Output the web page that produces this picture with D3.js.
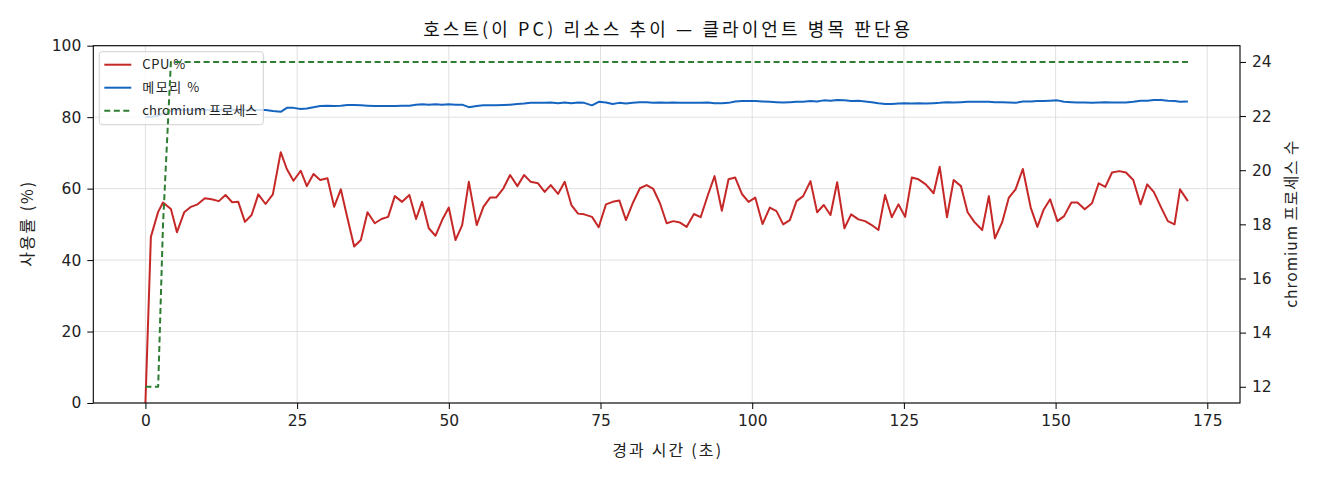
<!DOCTYPE html>
<html>
<head>
<meta charset="utf-8">
<script src="https://cdn.jsdelivr.net/npm/d3@7"></script>
<style>
  body { margin: 0; background: #fff; }
  svg { display: block; font-family: "Noto Sans CJK KR", "Noto Sans", sans-serif; }
  .tick text { font-family: "DejaVu Sans", sans-serif; font-size: 15.5px; fill: #222; }
  .grid line { stroke: #d8d8d8; stroke-width: 0.8; }
</style>
</head>
<body>
<div id="viz"></div>
<script>
const W = 1320, H = 480;
const margin = { top: 45.7, right: 80, bottom: 77, left: 93.3 };

// elapsed seconds of each sample
const times = [
  0, 0.9, 2.1, 2.9, 4.2, 5.2, 6.4, 7.5, 8.6, 9.8,
  10.9, 12.1, 13.2, 14.3, 15.3, 16.4, 17.5, 18.6, 19.8, 21.0,
  22.3, 23.3, 24.4, 25.6, 26.6, 27.7, 28.8, 30.0, 31.1, 32.2,
  33.3, 34.4, 35.5, 36.6, 37.8, 38.9, 40.0, 41.1, 42.3, 43.5,
  44.6, 45.6, 46.7, 47.8, 48.9, 50.0, 51.1, 52.2, 53.3, 54.6,
  55.7, 56.8, 57.8, 59.0, 60.1, 61.3, 62.4, 63.5, 64.7, 65.8,
  66.8, 68.0, 69.1, 70.2, 71.3, 72.3, 73.6, 74.7, 75.9, 77.0,
  78.1, 79.2, 80.3, 81.5, 82.6, 83.7, 84.8, 85.9, 87.0, 88.1,
  89.2, 90.4, 91.5, 92.7, 93.8, 95.0, 96.1, 97.2, 98.3, 99.4,
  100.5, 101.7, 102.9, 104.0, 105.1, 106.2, 107.3, 108.4, 109.6, 110.7,
  111.8, 112.9, 114.0, 115.2, 116.3, 117.5, 118.6, 119.7, 120.8, 121.9,
  123.0, 124.1, 125.2, 126.3, 127.4, 128.6, 129.9, 130.9, 132.1, 133.2,
  134.4, 135.5, 136.6, 137.9, 139.0, 140.0, 141.2, 142.3, 143.4, 144.6,
  145.9, 147.0, 148.0, 149.1, 150.3, 151.4, 152.6, 153.6, 154.8, 156.0,
  157.1, 158.2, 159.3, 160.5, 161.6, 162.8, 164.0, 165.1, 166.2, 167.4,
  168.5, 169.6, 170.5, 171.8
];

const cpu = [
  0, 46.5, 53.5, 56.1, 54.3, 47.8, 53.4, 54.9, 55.6, 57.3,
  57.0, 56.5, 58.2, 56.2, 56.3, 50.7, 52.6, 58.4, 55.7, 58.4,
  70.2, 65.5, 62.2, 65.0, 60.7, 64.1, 62.4, 62.9, 54.9, 59.8,
  51.7, 43.8, 45.6, 53.4, 50.3, 51.5, 52.1, 57.9, 56.3, 58.2,
  51.5, 56.3, 48.9, 46.8, 51.2, 54.7, 45.6, 49.8, 61.9, 49.8,
  54.9, 57.5, 57.5, 60.1, 63.8, 60.7, 63.8, 61.9, 61.5, 59.1,
  61.0, 58.5, 61.9, 55.4, 53.0, 52.8, 52.1, 49.2, 55.6, 56.3,
  56.7, 51.2, 55.9, 60.1, 61.0, 59.9, 55.9, 50.3, 50.9, 50.5,
  49.3, 52.9, 52.0, 58.2, 63.5, 53.8, 62.6, 63.1, 58.5, 56.3,
  57.5, 50.1, 54.7, 53.7, 50.0, 51.2, 56.5, 57.9, 62.1, 53.4,
  55.4, 52.6, 61.8, 48.9, 52.8, 51.4, 50.9, 49.8, 48.4, 58.2,
  52.0, 55.6, 52.1, 63.1, 62.6, 61.2, 58.7, 66.1, 52.0, 62.4,
  60.7, 53.4, 50.7, 48.4, 57.9, 46.1, 50.6, 57.5, 59.8, 65.5,
  54.7, 49.3, 54.0, 57.0, 50.9, 52.3, 56.1, 56.1, 54.2, 55.9,
  61.5, 60.5, 64.5, 64.9, 64.5, 62.4, 55.6, 61.2, 59.0, 54.7,
  50.9, 50.0, 59.8, 56.5
];

const memory = [
  80.0, 80.1, 80.4, 81.0, 81.8, 82.0, 82.0, 82.1, 82.0, 82.0,
  82.1, 82.1, 82.0, 82.1, 82.0, 82.1, 82.0, 82.0, 82.0, 81.7,
  81.5, 82.6, 82.6, 82.3, 82.4, 82.8, 83.1, 83.2, 83.1, 83.2,
  83.4, 83.4, 83.3, 83.2, 83.1, 83.1, 83.1, 83.1, 83.2, 83.2,
  83.5, 83.6, 83.5, 83.6, 83.5, 83.6, 83.5, 83.5, 82.8, 83.1,
  83.3, 83.3, 83.3, 83.4, 83.5, 83.7, 83.8, 84.0, 84.0, 84.0,
  84.1, 83.9, 84.1, 83.9, 84.1, 84.0, 83.3, 84.3, 84.1, 83.7,
  84.0, 83.8, 84.0, 84.2, 84.2, 84.0, 84.1, 84.0, 84.1, 84.0,
  84.0, 84.0, 84.0, 84.1, 83.9, 83.9, 84.0, 84.4, 84.5, 84.5,
  84.5, 84.4, 84.3, 84.2, 84.1, 84.2, 84.3, 84.3, 84.5, 84.4,
  84.7, 84.6, 84.8, 84.7, 84.5, 84.6, 84.4, 84.2, 83.9, 83.7,
  83.7, 83.8, 83.9, 83.8, 83.9, 83.8, 83.9, 84.0, 84.2, 84.1,
  84.2, 84.3, 84.3, 84.3, 84.3, 84.2, 84.2, 84.1, 84.0, 84.4,
  84.4, 84.5, 84.5, 84.6, 84.7, 84.3, 84.2, 84.1, 84.1, 84.0,
  84.1, 84.2, 84.1, 84.1, 84.1, 84.3, 84.6, 84.6, 84.8, 84.8,
  84.6, 84.5, 84.3, 84.4
];

// chromium process count (right axis)
const chromium = [12, 12, 12, 18].concat(times.slice(4).map(() => 24));

const xTicks = [0, 25, 50, 75, 100, 125, 150, 175];
const yLeftTicks = [0, 20, 40, 60, 80, 100];
const yRightTicks = [12, 14, 16, 18, 20, 22, 24];

const series = [
  { name: "CPU %", values: cpu, color: "#c62828", dash: null, axis: "left", len: 43 },
  { name: "메모리 %", values: memory, color: "#1565c0", dash: null, axis: "left", len: 57 },
  { name: "chromium 프로세스", values: chromium, color: "#2e7d32", dash: "6,3.5", axis: "right", len: 115 }
];

const plotW = W - margin.left - margin.right;
const plotH = H - margin.top - margin.bottom;

const svg = d3.select("#viz").append("svg")
  .attr("width", W).attr("height", H);

const g = svg.append("g")
  .attr("transform", "translate(" + margin.left + "," + margin.top + ")");

// matplotlib-like 5% padding on x and on right axis
const xExt = d3.extent(times);
const xPad = (xExt[1] - xExt[0]) * 0.05;
const x = d3.scaleLinear().domain([xExt[0] - xPad, xExt[1] + xPad]).range([0, plotW]);
const yL = d3.scaleLinear().domain([0, 100]).range([plotH, 0]);
const rExt = d3.extent(chromium);
const rPad = (rExt[1] - rExt[0]) * 0.05;
const yR = d3.scaleLinear().domain([rExt[0] - rPad, rExt[1] + rPad]).range([plotH, 0]);

// grid
g.append("g").attr("class", "grid")
  .selectAll("line").data(xTicks).enter().append("line")
  .attr("x1", d => x(d)).attr("x2", d => x(d))
  .attr("y1", 0).attr("y2", plotH);
g.append("g").attr("class", "grid")
  .selectAll("line").data(yLeftTicks).enter().append("line")
  .attr("x1", 0).attr("x2", plotW)
  .attr("y1", d => yL(d)).attr("y2", d => yL(d));

function drawLine(s) {
  const yS = s.axis === "left" ? yL : yR;
  const line = d3.line().x((d, i) => x(times[i])).y(d => yS(d));
  g.append("path")
    .datum(s.values)
    .attr("fill", "none")
    .attr("stroke", s.color)
    .attr("stroke-width", 2)
    .attr("stroke-dasharray", s.dash)
    .attr("stroke-linejoin", "round")
    .attr("d", line);
}

// left-axis lines sit under the legend, the twin-axis line is drawn above it
series.filter(s => s.axis === "left").forEach(drawLine);

// legend
const legend = g.append("g").attr("transform", "translate(6,6)");
legend.append("rect")
  .attr("width", 164).attr("height", 73).attr("rx", 3)
  .attr("fill", "#fff").attr("fill-opacity", 0.8)
  .attr("stroke", "#d0d0d0").attr("stroke-width", 1);
const items = legend.selectAll(".item").data(series).enter().append("g")
  .attr("transform", (d, i) => "translate(0," + (13 + i * 23) + ")");
items.append("line")
  .attr("x1", 5).attr("x2", 32)
  .attr("stroke", d => d.color).attr("stroke-width", 2)
  .attr("stroke-dasharray", d => d.dash);
items.append("text")
  .attr("x", 43).attr("dy", "0.35em")
  .attr("textLength", d => d.len).attr("lengthAdjust", "spacing")
  .style("font-size", "13px").attr("fill", "#222")
  .text(d => d.name);

series.filter(s => s.axis === "right").forEach(drawLine);

// axes
function styleAxis(sel) {
  sel.select(".domain").remove();
  sel.selectAll(".tick line").attr("stroke", "#000").attr("stroke-width", 1);
}
g.append("g").attr("transform", "translate(0," + plotH + ")")
  .call(d3.axisBottom(x).tickValues(xTicks).tickSize(6).tickPadding(6))
  .call(styleAxis);
g.append("g")
  .call(d3.axisLeft(yL).tickValues(yLeftTicks).tickSize(6).tickPadding(6))
  .call(styleAxis);
g.append("g").attr("transform", "translate(" + plotW + ",0)")
  .call(d3.axisRight(yR).tickValues(yRightTicks).tickSize(6).tickPadding(6))
  .call(styleAxis);

// frame
g.append("rect")
  .attr("width", plotW).attr("height", plotH)
  .attr("fill", "none").attr("stroke", "#000").attr("stroke-width", 1.1);

// titles
svg.append("text")
  .attr("x", margin.left + plotW / 2).attr("y", 36)
  .attr("text-anchor", "middle")
  .attr("textLength", 487).attr("lengthAdjust", "spacing")
  .style("font-size", "18px").attr("fill", "#111")
  .text("호스트(이 PC) 리소스 추이 — 클라이언트 병목 판단용");
svg.append("text")
  .attr("x", margin.left + plotW / 2).attr("y", 456)
  .attr("text-anchor", "middle")
  .attr("textLength", 109).attr("lengthAdjust", "spacing")
  .style("font-size", "16px").attr("fill", "#222")
  .text("경과 시간 (초)");
svg.append("text")
  .attr("transform", "translate(33," + (margin.top + plotH / 2) + ") rotate(-90)")
  .attr("text-anchor", "middle")
  .attr("textLength", 85).attr("lengthAdjust", "spacing")
  .style("font-size", "16px").attr("fill", "#222")
  .text("사용률 (%)");
svg.append("text")
  .attr("transform", "translate(1297," + (margin.top + plotH / 2) + ") rotate(-90)")
  .attr("text-anchor", "middle")
  .attr("textLength", 167).attr("lengthAdjust", "spacing")
  .style("font-size", "15.5px").attr("fill", "#222")
  .text("chromium 프로세스 수");
</script>
</body>
</html>
